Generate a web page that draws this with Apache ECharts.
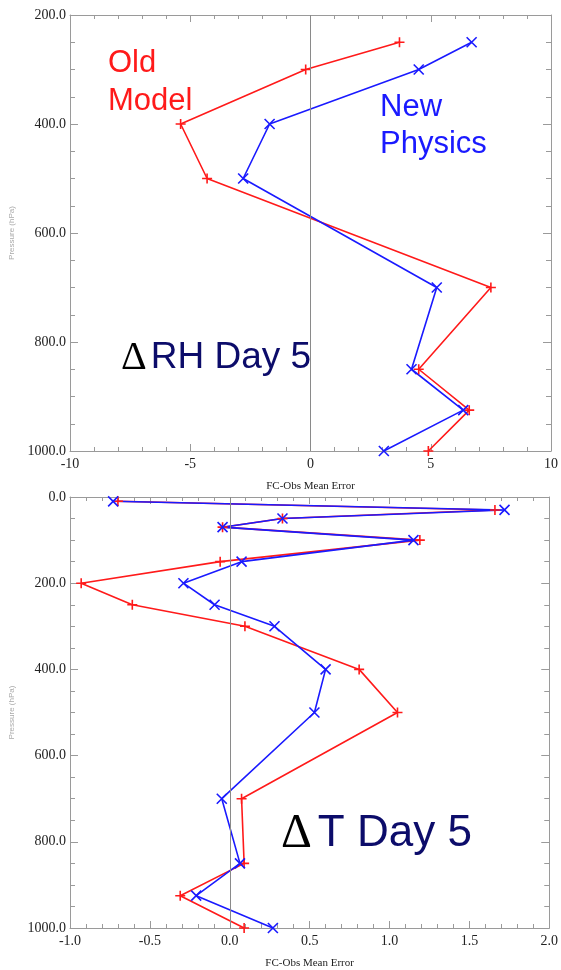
<!DOCTYPE html>
<html>
<head>
<meta charset="utf-8">
<script src="https://cdn.jsdelivr.net/npm/echarts@6/dist/echarts.min.js"></script>
<style>
html,body{margin:0;padding:0;background:#fff;}
#c{width:561px;height:970px;}
</style>
</head>
<body>
<div id="c"></div>
<script>
// ---- Data ----
const rhLevels = [250, 300, 400, 500, 700, 850, 925, 1000];
const rhOld    = [3.7, -0.2, -5.4, -4.3, 7.5, 4.5, 6.6, 4.9];
const rhNew    = [6.7, 4.5, -1.7, -2.8, 5.25, 4.2, 6.35, 3.05];

const tLevels = [10, 30, 50, 70, 100, 150, 200, 250, 300, 400, 500, 700, 850, 925, 1000];
const tOld    = [-0.70, 1.66, 0.33, -0.045, 1.19, -0.06, -0.93, -0.61, 0.095, 0.81, 1.05, 0.074, 0.09, -0.31, 0.09];
const tNew    = [-0.73, 1.72, 0.33, -0.045, 1.15, 0.074, -0.29, -0.095, 0.28, 0.60, 0.53, -0.05, 0.064, -0.21, 0.27];

const xTitle = 'FC-Obs Mean Error';
const yTitle = 'Pressure (hPa)';
const oldLabel = ['Old', 'Model'];
const newLabel = ['New', 'Physics'];
const rhTitle = 'RH Day 5';
const tTitle = 'T Day 5';

// ---- Styles ----
const RED = '#ff1a1a', BLUE = '#1a1aff', NAVY = '#0c0c6a';
const frame = '#9a9a9a';
const plusPath = 'path://M5,0L5,10M0,5L10,5';
const crossPath = 'path://M0,0L10,10M10,0L0,10';

function pairs(xs, ys) { return xs.map((x, i) => [x, ys[i]]); }

function xAx(grid, min, max, interval, dec, show) {
  return {
    type: 'value', gridIndex: grid, min, max, interval,
    position: show ? 'bottom' : 'top',
    axisLine: { show: true, onZero: false, lineStyle: { color: frame, width: 1 } },
    axisTick: { show: true, inside: true, length: 7, lineStyle: { color: frame } },
    minorTick: { show: true, splitNumber: 5, length: 4, lineStyle: { color: frame } },
    axisLabel: show ? {
      show: true, margin: 6, color: '#222', fontFamily: 'Liberation Serif', fontSize: 14,
      formatter: v => dec ? v.toFixed(dec) : String(v)
    } : { show: false },
    splitLine: { show: false },
    name: show ? xTitle : '', nameLocation: 'middle', nameGap: 30,
    nameTextStyle: { color: '#222', fontFamily: 'Liberation Serif', fontSize: 11 }
  };
}
function yAx(grid, min, max, show) {
  return {
    type: 'value', gridIndex: grid, min, max, interval: 200, inverse: true,
    position: show ? 'left' : 'right',
    axisLine: { show: true, onZero: false, lineStyle: { color: frame, width: 1 } },
    axisTick: { show: true, inside: true, length: 8, lineStyle: { color: frame } },
    minorTick: { show: true, splitNumber: 4, length: 5, lineStyle: { color: frame } },
    axisLabel: show ? {
      show: true, margin: 4, color: '#222', fontFamily: 'Liberation Serif', fontSize: 14,
      formatter: v => v.toFixed(1)
    } : { show: false },
    splitLine: { show: false },
    name: show ? yTitle : '', nameLocation: 'middle', nameRotate: 90, nameGap: 54,
    nameTextStyle: { color: '#aaa', fontFamily: 'Liberation Sans', fontSize: 8 }
  };
}
function lineSeries(name, xi, yi, data, color, sym, zero) {
  const s = {
    name, type: 'line', xAxisIndex: xi, yAxisIndex: yi, data,
    symbol: sym, symbolSize: 10, showSymbol: true,
    lineStyle: { color, width: 1.6 },
    itemStyle: { color: 'none', borderColor: color, borderWidth: 1.6 },
    clip: true, animation: false, silent: true
  };
  if (zero) {
    s.markLine = {
      silent: true, symbol: ['none', 'none'], label: { show: false },
      lineStyle: { color: '#8a8a8a', type: 'solid', width: 1 },
      data: [{ xAxis: 0 }], animation: false
    };
  }
  return s;
}

const chart = echarts.init(document.getElementById('c'), null, { renderer: 'canvas' });
chart.setOption({
  backgroundColor: '#fff',
  animation: false,
  grid: [
    { left: 68, right: 8, top: 15, height: 436, containLabel: false },
    { left: 68, right: 8, top: 497, height: 433, containLabel: false }
  ],
  xAxis: [
    xAx(0, -10, 10, 5, 0, true),
    xAx(0, -10, 10, 5, 0, false),
    xAx(1, -1, 2, 0.5, 1, true),
    xAx(1, -1, 2, 0.5, 1, false)
  ],
  yAxis: [
    yAx(0, 200, 1000, true),
    yAx(0, 200, 1000, false),
    yAx(1, 0, 1000, true),
    yAx(1, 0, 1000, false)
  ],
  series: [
    lineSeries('Old Model RH', 0, 0, pairs(rhOld, rhLevels), RED, plusPath, true),
    lineSeries('New Physics RH', 0, 0, pairs(rhNew, rhLevels), BLUE, crossPath, false),
    lineSeries('Old Model T', 2, 2, pairs(tOld, tLevels), RED, plusPath, true),
    lineSeries('New Physics T', 2, 2, pairs(tNew, tLevels), BLUE, crossPath, false)
  ],
  graphic: [
    { type: 'text', left: 108, top: 44, style: { text: oldLabel.join('\n'), fill: RED, font: '31px "Liberation Sans"', lineHeight: 38 } },
    { type: 'text', left: 380, top: 89, style: { text: newLabel.join('\n'), fill: BLUE, font: '31px "Liberation Sans"', lineHeight: 37 } },
    { type: 'text', left: 121, top: 338, style: {
      text: '{d|Δ}{t|' + rhTitle + '}',
      rich: {
        d: { fill: '#000', font: '40px "Liberation Serif"', padding: [0, 4, 0, 0] },
        t: { fill: NAVY, font: '37px "Liberation Sans"' }
      } } },
    { type: 'text', left: 281, top: 810, style: {
      text: '{d|Δ}{t|' + tTitle + '}',
      rich: {
        d: { fill: '#000', font: '48px "Liberation Serif"', padding: [0, 6, 0, 0] },
        t: { fill: NAVY, font: '44px "Liberation Sans"' }
      } } }
  ]
});
</script>
</body>
</html>
